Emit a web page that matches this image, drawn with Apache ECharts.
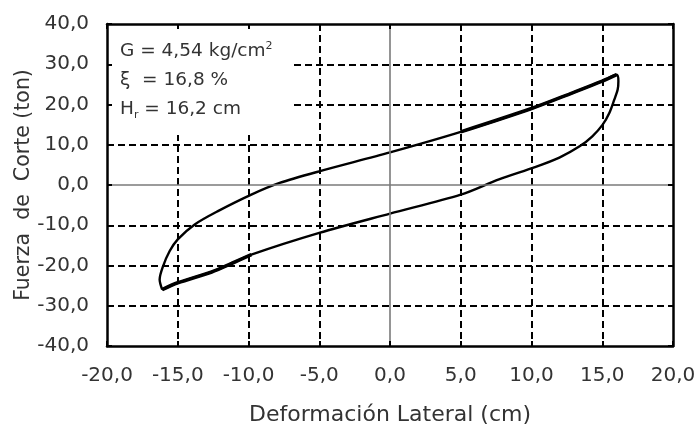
<!DOCTYPE html>
<html>
<head>
<meta charset="utf-8">
<script src="https://cdn.jsdelivr.net/npm/echarts@6/dist/echarts.min.js"></script>
<style>
  html, body { margin: 0; padding: 0; background: #fff; }
  #chart { width: 696px; height: 427px; }
</style>
</head>
<body>
<div id="chart"></div>
<script>
// Hysteresis loop: shear force vs lateral deformation
const xTicks = [-20, -15, -10, -5, 0, 5, 10, 15, 20];
const yTicks = [-40, -30, -20, -10, 0, 10, 20, 30, 40];

// loading branch (from negative peak up to positive peak)
const upX = [-16.1, -16.28, -16.04, -15.57, -15.0, -13.8, -12.16, -9.8, -7.8, -5.0, 0.0, 5.0, 10.0, 12.9, 15.0, 16.02];
const upY = [-26.0, -23.5, -20.2, -16.4, -13.5, -9.8, -6.5, -2.4, 0.5, 3.4, 8.1, 13.2, 19.0, 22.9, 25.8, 27.4];

// unloading branch (from positive peak back down to negative peak)
const downX = [16.02, 16.14, 16.09, 15.85, 15.5, 15.03, 14.3, 13.4, 11.97, 10.3, 7.7, 5.0, 0.0, -5.0, -9.8, -11.2, -12.6, -15.0, -16.1];
const downY = [27.4, 25.8, 23.7, 21.2, 17.9, 15.0, 12.1, 9.6, 6.8, 4.5, 1.4, -2.4, -7.1, -11.9, -17.3, -19.5, -21.6, -24.3, -26.0];

// repeated-cycle segments near the peaks (overlapping traces)
const peakUpX = [5.0, 10.0, 12.9, 15.0, 16.02];
const peakUpY = [13.2, 19.0, 22.9, 25.8, 27.4];
const peakDownX = [-9.8, -11.2, -12.6, -15.0, -16.1];
const peakDownY = [-17.3, -19.5, -21.6, -24.3, -26.0];

const zip = (xs, ys) => xs.map((x, i) => [x, ys[i]]);
const loop = zip(upX, upY).concat(zip(downX, downY).slice(1));

const FONT = 'DejaVu Sans';
const fmt = v => v.toFixed(1).replace('.', ',');
const splitColors = yTicks.map(v => (v === -40 || v === 0 || v === 40) ? 'transparent' : '#000');
const splitColorsX = xTicks.map(v => (v === -20 || v === 0 || v === 20) ? 'transparent' : '#000');

const frameLine = { show: true, onZero: false, lineStyle: { color: '#000', width: 2.5 } };
const frameTick = { show: true, inside: true, length: 5, lineStyle: { color: '#000', width: 2 } };

const chart = echarts.init(document.getElementById('chart'), null, { renderer: 'canvas' });
chart.setOption({
  animation: false,
  backgroundColor: '#fff',
  textStyle: { fontFamily: FONT },
  grid: { left: 107, right: 23, top: 24, bottom: 81, containLabel: false, outerBoundsMode: 'none' },
  title: {
    left: 107, top: 24,
    backgroundColor: '#fff',
    padding: [13, 20, 11, 13],
    text: '{a|G = 4,54 kg/cm}{sup|2}\n{a|ξ  = 16,8 %}\n{a|H}{sub|r}{a| = 16,2 cm}',
    textStyle: {
      fontWeight: 'normal',
      rich: {
        a: { fontFamily: FONT, fontSize: 18.5, fontWeight: 'normal', color: '#333', lineHeight: 29 },
        sup: { fontFamily: FONT, fontSize: 11, fontWeight: 'normal', color: '#333', lineHeight: 29, verticalAlign: 'top', padding: [4, 0, 0, 0] },
        sub: { fontFamily: FONT, fontSize: 11, fontWeight: 'normal', color: '#333', lineHeight: 29, verticalAlign: 'bottom', padding: [0, 0, 3, 0] }
      }
    }
  },
  xAxis: [
    {
      type: 'value', position: 'bottom', min: -20, max: 20, interval: 5, z: 10,
      name: 'Deformación Lateral (cm)', nameLocation: 'middle', nameGap: 58, nameMoveOverlap: false,
      nameTextStyle: { fontFamily: FONT, fontSize: 22, color: '#333' },
      axisLine: frameLine, axisTick: frameTick,
      axisLabel: { fontFamily: FONT, fontSize: 20, color: '#333', margin: 20, formatter: fmt },
      splitLine: { show: false }
    },
    {
      type: 'value', position: 'top', min: -20, max: 20, interval: 5, z: 10,
      axisLine: frameLine, axisTick: frameTick, axisLabel: { show: false }, splitLine: { show: false }
    },
    {
      type: 'value', position: 'bottom', min: -20, max: 20, interval: 5, z: 0,
      axisLine: { show: false }, axisTick: { show: false }, axisLabel: { show: false },
      splitLine: { show: true, lineStyle: { color: splitColorsX, width: 2, type: [7, 4] } }
    }
  ],
  yAxis: [
    {
      type: 'value', position: 'left', min: -40, max: 40, interval: 10, z: 10,
      name: 'Fuerza  de  Corte (ton)', nameLocation: 'middle', nameGap: 73, nameMoveOverlap: false,
      nameTextStyle: { fontFamily: FONT, fontSize: 20.5, color: '#333' },
      axisLine: frameLine, axisTick: frameTick,
      axisLabel: { fontFamily: FONT, fontSize: 20, color: '#333', margin: 18, formatter: fmt },
      splitLine: { show: false }
    },
    {
      type: 'value', position: 'right', min: -40, max: 40, interval: 10, z: 10,
      axisLine: frameLine, axisTick: frameTick, axisLabel: { show: false }, splitLine: { show: false }
    },
    {
      type: 'value', position: 'left', min: -40, max: 40, interval: 10, z: 0,
      axisLine: { show: false }, axisTick: { show: false }, axisLabel: { show: false },
      splitLine: { show: true, lineStyle: { color: splitColors, width: 2, type: [7, 4] } }
    }
  ],
  series: [
    {
      type: 'line', xAxisIndex: 0, yAxisIndex: 0,
      data: loop, smooth: 0.3, showSymbol: false, symbol: 'none',
      lineStyle: { color: '#000', width: 2.4 },
      markLine: {
        silent: true, symbol: 'none', label: { show: false },
        lineStyle: { color: '#7a7a7a', width: 1.6, type: 'solid' },
        data: [{ xAxis: 0 }, { yAxis: 0 }]
      }
    },
    {
      type: 'line', xAxisIndex: 0, yAxisIndex: 0,
      data: zip(peakUpX, peakUpY), smooth: 0.3, showSymbol: false, symbol: 'none',
      lineStyle: { color: '#000', width: 3.6 }
    },
    {
      type: 'line', xAxisIndex: 0, yAxisIndex: 0,
      data: zip(peakDownX, peakDownY), smooth: 0.3, showSymbol: false, symbol: 'none',
      lineStyle: { color: '#000', width: 3.6 }
    }
  ]
});
</script>
</body>
</html>
